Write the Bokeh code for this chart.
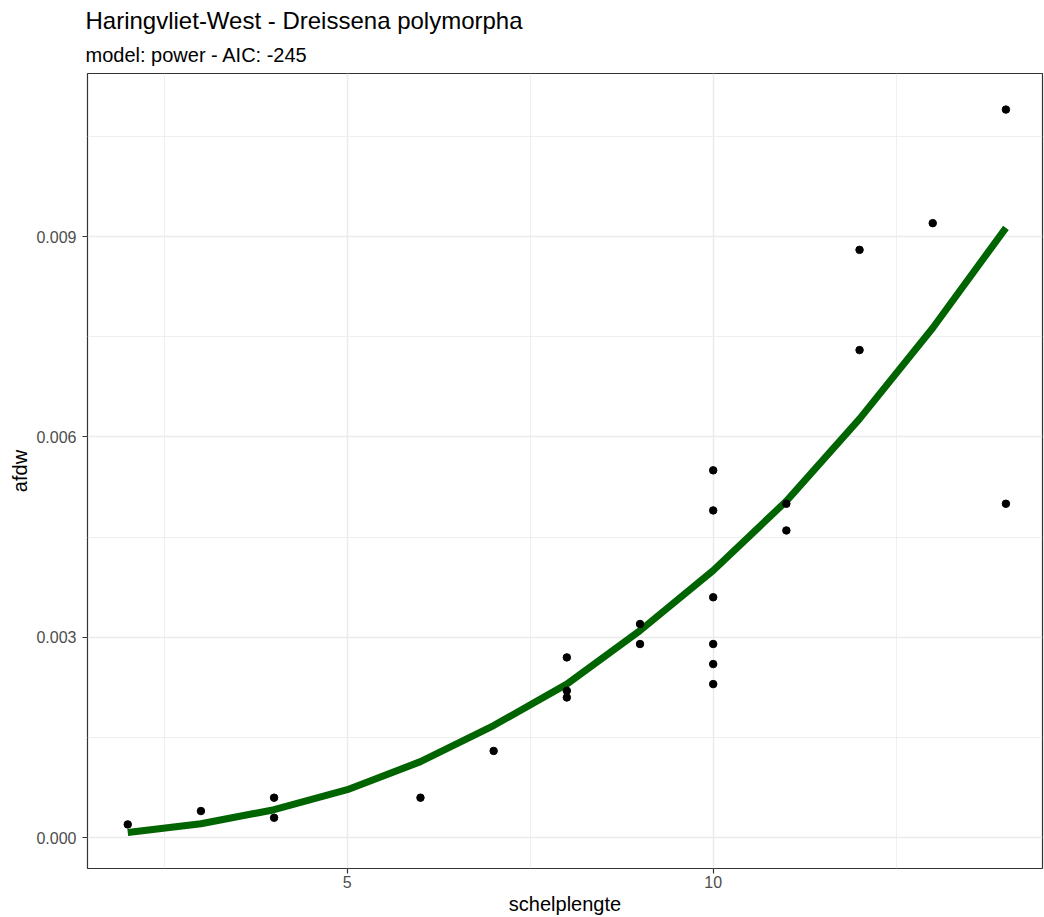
from bokeh.plotting import figure
from bokeh.models import Range1d, FixedTicker, Title, PrintfTickFormatter, ColumnDataSource
from bokeh.embed import file_html
from bokeh.resources import INLINE

title_text = "Haringvliet-West - Dreissena polymorpha"
subtitle_text = "model: power - AIC: -245"
x_label = "schelplengte"
y_label = "afdw"

obs_x = [2, 3, 4, 4, 6, 7, 8, 8, 8, 9, 9, 10, 10, 10, 10, 10, 10, 11, 11, 12, 12, 13, 14, 14]
obs_y = [0.0002, 0.0004, 0.0006, 0.0003, 0.0006, 0.0013, 0.0027, 0.0022, 0.0021,
         0.0032, 0.0029, 0.0055, 0.0049, 0.0036, 0.0029, 0.0026, 0.0023,
         0.0050, 0.0046, 0.0088, 0.0073, 0.0092, 0.0109, 0.0050]

fit_x = [2, 3, 4, 5, 6, 7, 8, 9, 10, 11, 12, 13, 14]
fit_y = [0.00008, 0.00021, 0.00042, 0.00072, 0.00114, 0.00168, 0.0023,
         0.0031, 0.0040, 0.00504, 0.00627, 0.00763, 0.00913]

x_ticks = [5, 10]
x_minor = [2.5, 7.5, 12.5]
y_ticks = [0.0, 0.003, 0.006, 0.009]
y_minor = [0.0015, 0.0045, 0.0075, 0.0105]

FONT = "Liberation Sans"

p = figure(width=1044, height=917,
           x_range=Range1d(1.45, 14.5), y_range=Range1d(-0.00046, 0.01144),
           toolbar_location=None, output_backend="svg",
           min_border_left=87, min_border_right=2, min_border_bottom=49, min_border_top=73)

p.background_fill_color = "white"
p.border_fill_color = "white"
p.outline_line_color = "#333333"
p.outline_line_width = 1.2

for g, ticks, minor in ((p.xgrid[0], x_ticks, x_minor), (p.ygrid[0], y_ticks, y_minor)):
    g.ticker = FixedTicker(ticks=ticks, minor_ticks=minor)
    g.grid_line_color = "#EBEBEB"
    g.grid_line_width = 1.5
    g.minor_grid_line_color = "#EBEBEB"
    g.minor_grid_line_width = 0.8

xa = p.xaxis[0]
xa.ticker = FixedTicker(ticks=x_ticks, minor_ticks=x_minor)
xa.formatter = PrintfTickFormatter(format="%d")
ya = p.yaxis[0]
ya.ticker = FixedTicker(ticks=y_ticks, minor_ticks=y_minor)
ya.formatter = PrintfTickFormatter(format="%.3f")

for ax, lab in ((xa, x_label), (ya, y_label)):
    ax.axis_label = lab
    ax.axis_label_text_font = FONT
    ax.axis_label_text_font_size = "20px"
    ax.axis_label_text_font_style = "normal"
    ax.axis_label_text_color = "black"
    ax.major_label_text_font = FONT
    ax.major_label_text_font_size = "16px"
    ax.major_label_text_color = "#4D4D4D"
    ax.axis_line_color = None
    ax.major_tick_line_color = "#333333"
    ax.major_tick_line_width = 1.2
    ax.major_tick_in = 0
    ax.major_tick_out = 5
    ax.minor_tick_line_color = None

xa.major_label_standoff = 2
xa.axis_label_standoff = 2
ya.major_label_standoff = 6
ya.axis_label_standoff = 2

src_obs = ColumnDataSource(dict(x=obs_x, y=obs_y))
src_fit = ColumnDataSource(dict(x=fit_x, y=fit_y))

p.line("x", "y", source=src_fit, line_color="#006400", line_width=7)
p.scatter("x", "y", source=src_obs, size=7.5, fill_color="black", line_color="black")

sub = Title(text=subtitle_text, text_font=FONT, text_font_size="20px",
            text_font_style="normal", text_color="black", align="left", offset=-2, standoff=15)
main = Title(text=title_text, text_font=FONT, text_font_size="24px",
             text_font_style="normal", text_color="black", align="left", offset=-2, standoff=2)
p.add_layout(sub, "above")
p.add_layout(main, "above")

open("out.html", "w").write(file_html(p, INLINE))
